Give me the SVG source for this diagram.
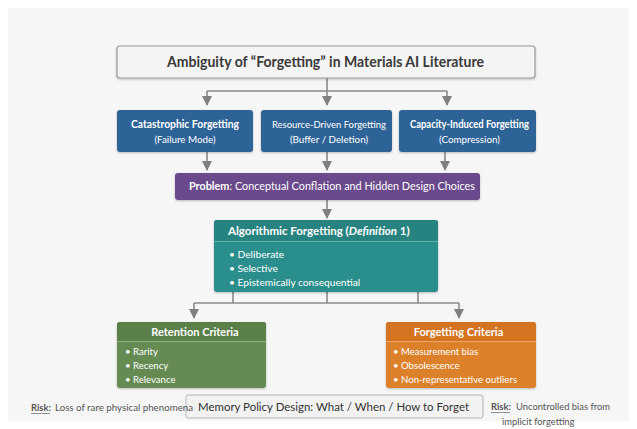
<svg xmlns="http://www.w3.org/2000/svg" width="637" height="429" viewBox="0 0 637 429">
  <defs>
    <filter id="shadow" x="-5%" y="-10%" width="110%" height="130%">
      <feDropShadow dx="0" dy="1" stdDeviation="1.2" flood-color="#000" flood-opacity="0.25"/>
    </filter>
    <marker id="arrow" viewBox="0 0 10 10" refX="9" refY="5" markerWidth="10" markerHeight="10" markerUnits="userSpaceOnUse" orient="auto">
      <path d="M0,0 L10,5 L0,10 z" fill="#808080"/>
    </marker>
    <style>
      text { font-family: "Lato", "Noto Sans", "Liberation Sans", sans-serif; }
      .conn { fill: none; stroke: #8a8a8a; stroke-width: 1.6; }
      .title { font-size: 15px; font-weight: bold; fill: #3a3a3a; }
      .hd { font-size: 11px; font-weight: bold; fill: #ffffff; }
      .sub { font-size: 9.8px; fill: #ffffff; }
      .body { font-size: 10.2px; fill: #ffffff; }
      .crit { font-size: 9.6px; fill: #ffffff; }
      .risk { font-size: 9.4px; fill: #555555; }
      .riskb { font-size: 9.4px; font-weight: bold; fill: #555555; }
      .uline { stroke: #777777; stroke-width: 0.8; }
    </style>
  </defs>

  <rect x="0" y="0" width="637" height="429" fill="#ffffff"/>
  <rect x="8" y="8" width="621" height="413" fill="#f6f6f6"/>

  <!-- connectors -->
  <g id="connectors">
    <path class="conn" d="M327,78 V91 M207,91 H447"/>
    <path class="conn" d="M207,91 V105" marker-end="url(#arrow)"/>
    <path class="conn" d="M327,91 V105" marker-end="url(#arrow)"/>
    <path class="conn" d="M447,91 V105" marker-end="url(#arrow)"/>
    <path class="conn" d="M207,152 V170" marker-end="url(#arrow)"/>
    <path class="conn" d="M327,152 V170" marker-end="url(#arrow)"/>
    <path class="conn" d="M445,152 V170" marker-end="url(#arrow)"/>
    <path class="conn" d="M327,200 V218" marker-end="url(#arrow)"/>
    <path class="conn" d="M233,292 V303 M327,292 V303 M418,292 V303 M194,303 H459"/>
    <path class="conn" d="M194,303 V318" marker-end="url(#arrow)"/>
    <path class="conn" d="M459,303 V318" marker-end="url(#arrow)"/>
  </g>

  <!-- title -->
  <g id="title">
    <rect x="117" y="46" width="418" height="32" rx="3" fill="#f4f4f4" stroke="#9a9a9a" stroke-width="1.2" filter="url(#shadow)"/>
    <text class="title" x="167" y="67" textLength="317" lengthAdjust="spacingAndGlyphs">Ambiguity of “Forgetting” in Materials AI Literature</text>
  </g>

  <!-- three notions -->
  <g id="catastrophic">
    <rect x="117" y="110" width="136" height="42" rx="3" fill="#2f6398" filter="url(#shadow)"/>
    <text class="hd" x="185" y="128" text-anchor="middle" textLength="108" lengthAdjust="spacingAndGlyphs">Catastrophic Forgetting</text>
    <text class="sub" x="185" y="143" text-anchor="middle">(Failure Mode)</text>
  </g>
  <g id="resource">
    <rect x="261" y="110" width="131" height="42" rx="3" fill="#2f6398" filter="url(#shadow)"/>
    <text class="sub" x="329" y="128" text-anchor="middle" textLength="114" lengthAdjust="spacingAndGlyphs">Resource-Driven Forgetting</text>
    <text class="sub" x="329" y="143" text-anchor="middle">(Buffer / Deletion)</text>
  </g>
  <g id="capacity">
    <rect x="399" y="110" width="137" height="42" rx="3" fill="#2f6398" filter="url(#shadow)"/>
    <text class="hd" x="469.5" y="128" text-anchor="middle" textLength="119" lengthAdjust="spacingAndGlyphs">Capacity-Induced Forgetting</text>
    <text class="sub" x="469.5" y="143" text-anchor="middle">(Compression)</text>
  </g>

  <!-- problem -->
  <g id="problem">
    <rect x="175" y="173" width="305" height="27" rx="3" fill="#6a4a8c" filter="url(#shadow)"/>
    <text x="189" y="190" font-size="11.5" fill="#ffffff" textLength="286" lengthAdjust="spacingAndGlyphs"><tspan font-weight="bold">Problem</tspan>: Conceptual Conflation and Hidden Design Choices</text>
  </g>

  <!-- definition -->
  <g id="algorithmic">
    <rect x="214" y="220" width="224" height="72" rx="3" fill="#2b8f8c" filter="url(#shadow)"/>
    <path d="M214,223 a3,3 0 0 1 3,-3 H435 a3,3 0 0 1 3,3 V241 H214 z" fill="#27837f"/>
    <line x1="214" y1="241.5" x2="438" y2="241.5" stroke="#5fb3ae" stroke-width="1"/>
    <text x="228" y="235" font-size="11.5" font-weight="bold" fill="#ffffff">Algorithmic Forgetting (<tspan font-style="italic">Definition</tspan> 1)</text>
    <text class="body" x="229" y="258">• Deliberate</text>
    <text class="body" x="229" y="272">• Selective</text>
    <text class="body" x="229" y="286">• Epistemically consequential</text>
  </g>

  <!-- criteria -->
  <g id="retention">
    <rect x="117" y="322" width="149" height="66" rx="3" fill="#658b52" filter="url(#shadow)"/>
    <path d="M117,325 a3,3 0 0 1 3,-3 H263 a3,3 0 0 1 3,3 V341 H117 z" fill="#5b7f49"/>
    <line x1="117" y1="341.5" x2="266" y2="341.5" stroke="#8fb07d" stroke-width="1"/>
    <text class="hd" x="195" y="336" text-anchor="middle">Retention Criteria</text>
    <text class="crit" x="125" y="355">• Rarity</text>
    <text class="crit" x="125" y="369">• Recency</text>
    <text class="crit" x="125" y="383">• Relevance</text>
  </g>
  <g id="forgetting">
    <rect x="386" y="322" width="150" height="66" rx="3" fill="#dc812b" filter="url(#shadow)"/>
    <path d="M386,325 a3,3 0 0 1 3,-3 H533 a3,3 0 0 1 3,3 V341 H386 z" fill="#d47420"/>
    <line x1="386" y1="341.5" x2="536" y2="341.5" stroke="#eba76a" stroke-width="1"/>
    <text class="hd" x="458.5" y="336" text-anchor="middle">Forgetting Criteria</text>
    <text class="crit" x="393" y="355">• Measurement bias</text>
    <text class="crit" x="393" y="369">• Obsolescence</text>
    <text class="crit" x="393" y="383">• Non-representative outliers</text>
  </g>

  <!-- policy design and risks -->
  <g id="policy">
    <rect x="186" y="395" width="297" height="23" rx="2" fill="#f2f2f2" stroke="#b5b5b5" stroke-width="1"/>
    <text x="198" y="411" font-size="12" fill="#333333" textLength="271" lengthAdjust="spacingAndGlyphs">Memory Policy Design: What / When / How to Forget</text>
  </g>
  <g id="risk-left">
    <text class="riskb" x="31" y="411">Risk:</text>
    <line class="uline" x1="31" y1="413.5" x2="50" y2="413.5"/>
    <text class="risk" x="55" y="411" textLength="138" lengthAdjust="spacingAndGlyphs">Loss of rare physical phenomena</text>
  </g>
  <g id="risk-right">
    <text class="riskb" x="491" y="410">Risk:</text>
    <line class="uline" x1="491" y1="412.5" x2="510" y2="412.5"/>
    <text class="risk" x="516" y="410">Uncontrolled bias from</text>
    <text class="risk" x="502" y="425">implicit forgetting</text>
  </g>
</svg>
